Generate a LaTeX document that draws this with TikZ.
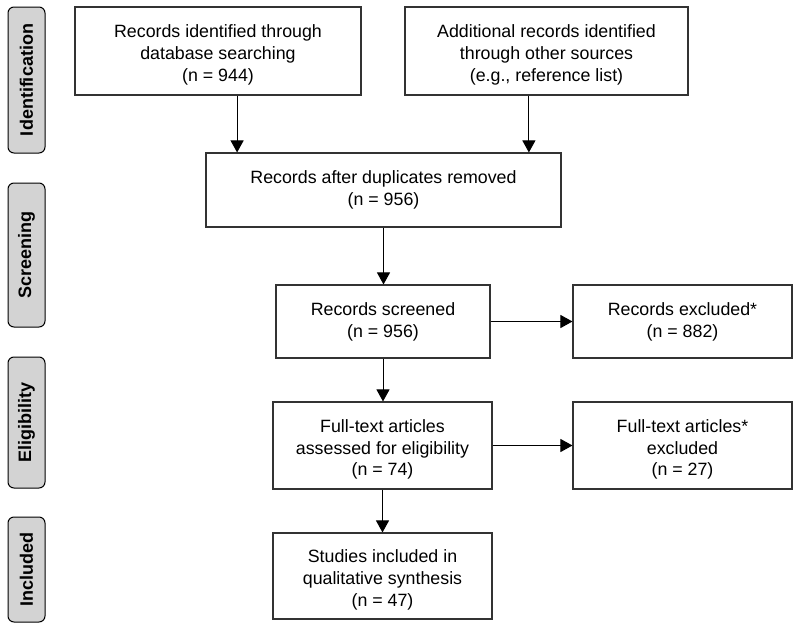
\documentclass[tikz,border=0pt]{standalone}
\usepackage{fontspec}
\setmainfont{Liberation Sans}
\usetikzlibrary{positioning, arrows.meta, calc}

\definecolor{boxline}{HTML}{333333}
\definecolor{phasefill}{HTML}{D3D3D3}
\newcommand{\toplinegap}{\rule{0pt}{21pt}}

\begin{document}
\begin{tikzpicture}[x=1pt, y=-1pt]
    \tikzset{
        flowbox/.style={
                draw=boxline, line width=1.1pt, fill=white, align=center,
                inner sep=2pt, font=\fontsize{17.8}{21.8}\selectfont
            },
        phase/.style={
                draw=black, line width=1pt, fill=phasefill, rounded corners=6pt,
                rotate=90, minimum height=37pt, inner sep=0pt,
                font=\fontsize{18}{20}\selectfont\bfseries
            },
        flowarrow/.style={
                -{Triangle[length=12pt, width=13pt]},
                line width=1pt, color=black
            }
    }
    \useasboundingbox (0,0) rectangle (800,629);

    % phase labels on the left
    \node[phase, minimum width=146pt] (pident) at (26.5, 80) {Identification};
    \node[phase, minimum width=144pt] (pscreen) at (26.5, 255) {Screening};
    \node[phase, minimum width=131pt] (pelig) at (26.5, 422.5) {Eligibility};
    \node[phase, minimum width=105pt] (pincl) at (26.5, 569.5) {Included};

    % flow boxes
    \node[flowbox, minimum width=286pt, minimum height=88pt] (dbsearch) at (218, 51)
        {\toplinegap Records identified through\\database searching\\(n = 944)};
    \node[flowbox, minimum width=283pt, minimum height=88pt] (othersrc) at (546.5, 51)
        {\toplinegap Additional records identified\\through other sources\\(e.g., reference list)};
    \node[flowbox, minimum width=355pt, minimum height=74pt] (dedup) at (383.5, 190)
        {Records after duplicates removed\\(n = 956)};
    \node[flowbox, minimum width=214pt, minimum height=73pt] (screened) at (383, 321.5)
        {Records screened\\(n = 956)};
    \node[flowbox, minimum width=219pt, minimum height=73pt] (recexcl) at (682.5, 321.5)
        {Records excluded*\\(n = 882)};
    \node[flowbox, minimum width=219pt, minimum height=87pt] (fulltext) at (382.5, 445.5)
        {\toplinegap Full-text articles\\assessed for eligibility\\(n = 74)};
    \node[flowbox, minimum width=219pt, minimum height=87pt] (ftexcl) at (682.5, 445.5)
        {\toplinegap Full-text articles*\\excluded\\(n = 27)};
    \node[flowbox, minimum width=219pt, minimum height=86pt] (included) at (382.5, 576)
        {\toplinegap Studies included in\\qualitative synthesis\\(n = 47)};

    % connectors
    \coordinate (dbout) at ($(dbsearch.south)!0.133!(dbsearch.south east)$);
    \coordinate (othout) at ($(othersrc.south)!0.124!(othersrc.south west)$);
    \draw[flowarrow] (dbout) -- (dbout |- dedup.north);
    \draw[flowarrow] (othout) -- (othout |- dedup.north);
    \draw[flowarrow] (dedup.south) -- (dedup.south |- screened.north);
    \draw[flowarrow] (screened) -- (recexcl);
    \draw[flowarrow] (screened.south) -- (screened.south |- fulltext.north);
    \draw[flowarrow] (fulltext) -- (ftexcl);
    \draw[flowarrow] (fulltext.south) -- (included.north);
\end{tikzpicture}
\end{document}
